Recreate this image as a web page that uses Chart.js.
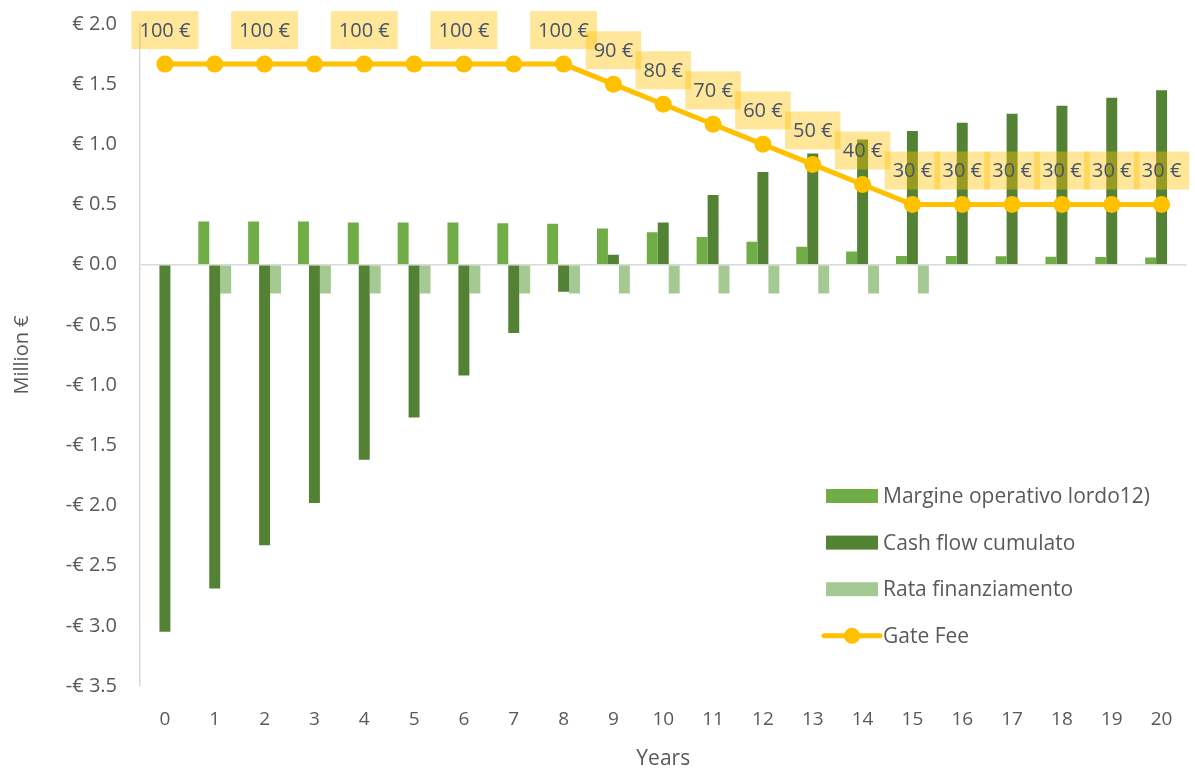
<!DOCTYPE html>
<html>
<head>
<meta charset="utf-8">
<script src="https://cdn.jsdelivr.net/npm/chart.js@4.4.1/dist/chart.umd.min.js"></script>
<style>
html,body{margin:0;padding:0;background:#fff;}
#wrap{width:1195px;height:769px;}
</style>
</head>
<body>
<div id="wrap"><canvas id="c" width="1195" height="769"></canvas></div>
<script>
const years = ['0','1','2','3','4','5','6','7','8','9','10','11','12','13','14','15','16','17','18','19','20'];
const margine = [null,0.36,0.36,0.36,0.35,0.35,0.35,0.345,0.34,0.30,0.27,0.23,0.19,0.15,0.11,0.072,0.072,0.07,0.066,0.064,0.061];
const cashFlow = [-3.05,-2.69,-2.33,-1.98,-1.62,-1.27,-0.92,-0.567,-0.224,0.083,0.35,0.58,0.77,0.925,1.04,1.11,1.18,1.254,1.32,1.387,1.45];
const rata = [null,-0.24,-0.24,-0.24,-0.24,-0.24,-0.24,-0.24,-0.24,-0.24,-0.24,-0.24,-0.24,-0.24,-0.24,-0.24,null,null,null,null,null];
const gateFee = [100,100,100,100,100,100,100,100,100,90,80,70,60,50,40,30,30,30,30,30,30];
// data labels visible in the reference (overlapping ones hidden)
const gateFeeLabels = ['100 €','','100 €','','100 €','','100 €','','100 €','90 €','80 €','70 €','60 €','50 €','40 €','30 €','30 €','30 €','30 €','30 €','30 €'];
const seriesNames = ['Margine operativo lordo12)','Cash flow cumulato','Rata finanziamento','Gate Fee'];

const COL_M = '#70AD47', COL_C = '#548235', COL_R = '#A5C993', COL_G = '#FFC000';
const TXT = '#595959';

const labelPlugin = {
  id: 'gateLabels',
  afterDatasetsDraw(chart) {
    const ctx = chart.ctx;
    const meta = chart.getDatasetMeta(0);
    ctx.save();
    ctx.font = '20px "Open Sans"';
    ctx.textAlign = 'center';
    ctx.textBaseline = 'middle';
    meta.data.forEach((pt, i) => {
      const txt = gateFeeLabels[i];
      if (!txt) return;
      const w = ctx.measureText(txt).width + 16;
      const h = 38;
      const cx = pt.x, cy = pt.y - 34;
      ctx.fillStyle = 'rgba(255,192,0,0.4)';
      ctx.fillRect(cx - w/2, cy - h/2, w, h);
      ctx.fillStyle = '#44546A';
      ctx.fillText(txt, cx, cy + 1);
    });
    ctx.restore();
  }
};

const legendPlugin = {
  id: 'customLegend',
  afterDraw(chart) {
    const ctx = chart.ctx;
    const x0 = 826, y0 = 496, gap = 46.6;
    const cols = [COL_M, COL_C, COL_R];
    ctx.save();
    ctx.font = '21px "Open Sans"';
    ctx.textBaseline = 'middle';
    ctx.textAlign = 'left';
    seriesNames.forEach((name, i) => {
      const y = y0 + i * gap;
      if (i < 3) {
        ctx.fillStyle = cols[i];
        ctx.fillRect(x0, y - 7, 52, 14);
      } else {
        ctx.strokeStyle = COL_G;
        ctx.lineWidth = 5;
        ctx.lineCap = 'round';
        ctx.beginPath();
        ctx.moveTo(x0 - 2, y); ctx.lineTo(x0 + 54, y); ctx.stroke();
        ctx.fillStyle = COL_G;
        ctx.beginPath(); ctx.arc(x0 + 26, y, 8, 0, Math.PI*2); ctx.fill();
      }
      ctx.fillStyle = TXT;
      ctx.fillText(name, 883, y + 1);
    });
    ctx.restore();
  }
};

new Chart(document.getElementById('c'), {
  data: {
    labels: years,
    datasets: [
      { type: 'line', label: seriesNames[3], data: gateFee, yAxisID: 'y2', order: 0,
        borderColor: COL_G, backgroundColor: COL_G, borderWidth: 5,
        pointRadius: 8.5, pointBackgroundColor: COL_G, pointBorderWidth: 0, tension: 0 },
      { type: 'bar', label: seriesNames[0], data: margine, backgroundColor: COL_M, order: 1 },
      { type: 'bar', label: seriesNames[1], data: cashFlow, backgroundColor: COL_C, order: 1 },
      { type: 'bar', label: seriesNames[2], data: rata, backgroundColor: COL_R, order: 1 }
    ]
  },
  options: {
    responsive: false,
    animation: false,
    devicePixelRatio: 1,
    datasets: { bar: { categoryPercentage: 0.66, barPercentage: 1.0 } },
    layout: { padding: { left: 0, right: 5, top: 24, bottom: 0 } },
    plugins: { legend: { display: false }, tooltip: { enabled: false } },
    scales: {
      x: {
        offset: true,
        grid: { display: false, drawTicks: false },
        border: { display: false },
        ticks: { color: TXT, font: { family: 'Open Sans', size: 19 }, padding: 22, maxRotation: 0, autoSkip: false },
        title: { display: true, text: 'Years', color: TXT, font: { family: 'Open Sans', size: 21 }, padding: { top: 0, bottom: -3 } },
        afterFit(scale) { scale.height = 83; scale.paddingLeft = 0; scale.paddingRight = 0; }
      },
      y: {
        min: -3.5, max: 2.0,
        grid: { drawTicks: false, lineWidth: 1.5, color: (c) => (c.tick && c.tick.value === 0) ? '#d9d9d9' : 'rgba(0,0,0,0)' },
        border: { display: true, color: '#d9d9d9', width: 1.5 },
        ticks: { stepSize: 0.5, color: TXT, padding: 23, font: { family: 'Open Sans', size: 20 },
          callback: (v) => v >= 0 ? '€ ' + v.toFixed(1) : '-€ ' + Math.abs(v).toFixed(1) },
        title: { display: true, text: 'Million €', color: TXT, font: { family: 'Open Sans', size: 20 }, padding: { top: 10, bottom: 0 } },
        afterFit(scale) { scale.width = 140; scale.paddingTop = 0; scale.paddingBottom = 0; }
      },
      y2: { display: false, min: -210, max: 120 }
    }
  },
  plugins: [labelPlugin, legendPlugin]
});
</script>
</body>
</html>
